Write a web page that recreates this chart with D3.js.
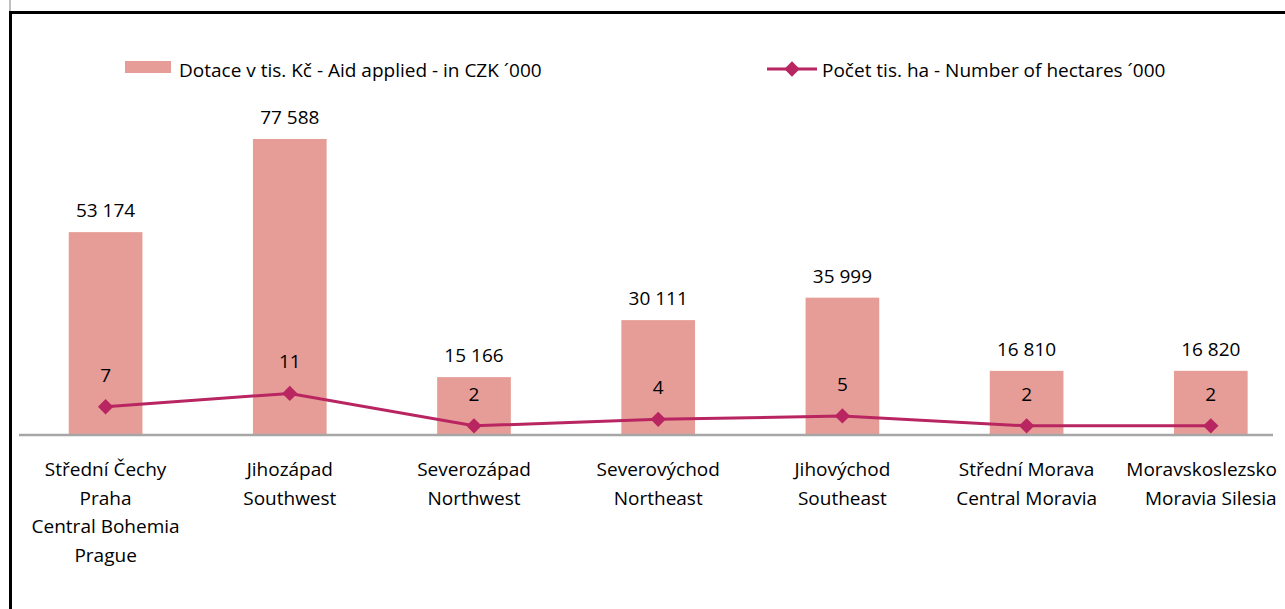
<!DOCTYPE html>
<html>
<head>
<meta charset="utf-8">
<script src="https://cdn.jsdelivr.net/npm/d3@7"></script>
<style>
  body { margin: 0; background: #fff; }
  svg { display: block; }
  text { font-family: 'Open Sans', sans-serif; fill: #000; }
</style>
</head>
<body>
<svg id="chart" width="1285" height="609"></svg>
<script>
// regions (two-line / four-line labels)
const regions = [
  ['Střední Čechy', 'Praha', 'Central Bohemia', 'Prague'],
  ['Jihozápad', 'Southwest'],
  ['Severozápad', 'Northwest'],
  ['Severovýchod', 'Northeast'],
  ['Jihovýchod', 'Southeast'],
  ['Střední Morava', 'Central Moravia'],
  ['Moravskoslezsko', 'Moravia Silesia'],
]
// aid applied, CZK '000
const aid = [53174, 77588, 15166, 30111, 35999, 16810, 16820]
// hectares '000
const hectares = [7.4, 10.9, 2.4, 4.1, 5.0, 2.4, 2.4]

const barName = 'Dotace v tis. Kč - Aid applied - in CZK ´000'
const lineName = 'Počet tis. ha - Number of hectares ´000'

const barColor = '#e69c97'
const lineColor = '#b82561'

const svg = d3.select('#chart')
const fontSize = 19

const ids = d3.range(regions.length)
const x = d3
  .scaleBand()
  .domain(ids)
  .range([13.5, 13.5 + 7 * 184.2])
  .paddingInner(0.6)
  .paddingOuter(0.3)

const baseY = 435
const y = d3.scaleLinear().domain([0, 80000]).range([baseY, 129.8])
const y2 = d3.scaleLinear().domain([0, 80]).range([baseY, 129.8])

const spaced = d3.formatLocale({ decimal: ',', thousands: ' ', grouping: [3], currency: ['', ''] }).format(',d')

// outer frame
svg.append('line')
  .attr('x1', 10).attr('x2', 10).attr('y1', 0).attr('y2', 11)
  .attr('stroke', '#bfbfbf').attr('stroke-width', 2)
svg.append('path')
  .attr('d', `M10.5,609 V12.5 H1285`)
  .attr('fill', 'none')
  .attr('stroke', '#000')
  .attr('stroke-width', 3)

// bars
svg.append('g')
  .selectAll('rect')
  .data(aid)
  .enter()
  .append('rect')
  .attr('x', (d, i) => x(i))
  .attr('width', x.bandwidth())
  .attr('y', (d) => y(d))
  .attr('height', (d) => baseY - y(d))
  .attr('fill', barColor)

// axis line
svg.append('line')
  .attr('x1', 19).attr('x2', 1273)
  .attr('y1', baseY).attr('y2', baseY)
  .attr('stroke', '#a6a6a6')
  .attr('stroke-width', 2.5)

// bar labels
svg.append('g')
  .selectAll('text')
  .data(aid)
  .enter()
  .append('text')
  .attr('x', (d, i) => x(i) + x.bandwidth() / 2)
  .attr('y', (d) => y(d) - 15)
  .attr('text-anchor', 'middle')
  .attr('font-size', fontSize)
  .text((d) => spaced(d))

// line
const cx = (i) => x(i) + x.bandwidth() / 2
const line = d3.line()
  .x((d, i) => cx(i))
  .y((d) => y2(d))
svg.append('path')
  .datum(hectares)
  .attr('d', line)
  .attr('fill', 'none')
  .attr('stroke', lineColor)
  .attr('stroke-width', 3)

const diamond = d3.symbol().type(d3.symbolDiamond2).size(150)
svg.append('g')
  .selectAll('path')
  .data(hectares)
  .enter()
  .append('path')
  .attr('d', diamond)
  .attr('transform', (d, i) => `translate(${cx(i)},${y2(d)})`)
  .attr('fill', lineColor)

svg.append('g')
  .selectAll('text')
  .data(hectares)
  .enter()
  .append('text')
  .attr('x', (d, i) => cx(i))
  .attr('y', (d) => y2(d) - 25)
  .attr('text-anchor', 'middle')
  .attr('font-size', fontSize)
  .text((d) => d3.format('.0f')(d))

// category labels
const rightEdge = 1277
const cat = svg.append('g')
  .selectAll('text')
  .data(regions)
  .enter()
  .append('text')
  .attr('text-anchor', 'middle')
  .attr('font-size', fontSize)
  .attr('transform', (d, i) => `translate(${cx(i)},476)`)
cat.each(function (d, i) {
  d3.select(this)
    .selectAll('tspan')
    .data(d)
    .enter()
    .append('tspan')
    .attr('x', 0)
    .attr('y', (t, j) => j * 28.5)
    .text((t) => t)
    .attr('x', function () {
      // keep the last labels inside the plot, like the original does
      const w = this.getComputedTextLength()
      const over = cx(i) + w / 2 - rightEdge
      return over > 0 ? -over : 0
    })
})

// legend
const legend = svg.append('g')
legend.append('rect')
  .attr('x', 125).attr('y', 61).attr('width', 46).attr('height', 12)
  .attr('fill', barColor)
legend.append('text')
  .attr('x', 179).attr('y', 77)
  .attr('font-size', fontSize)
  .text(barName)
legend.append('line')
  .attr('x1', 767).attr('x2', 817).attr('y1', 69).attr('y2', 69)
  .attr('stroke', lineColor).attr('stroke-width', 3)
legend.append('path')
  .attr('d', diamond)
  .attr('transform', 'translate(792,69)')
  .attr('fill', lineColor)
legend.append('text')
  .attr('x', 822).attr('y', 77)
  .attr('font-size', fontSize)
  .text(lineName)
</script>
</body>
</html>
